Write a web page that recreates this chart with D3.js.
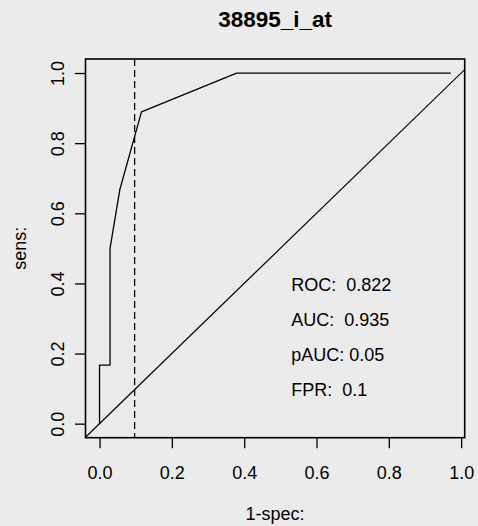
<!DOCTYPE html>
<html>
<head>
<meta charset="utf-8">
<script src="https://cdn.jsdelivr.net/npm/d3@7"></script>
<style>
  html, body { margin: 0; padding: 0; background: #EBEBEB; }
  svg { display: block; }
  text { font-family: "Liberation Sans", Arial, Helvetica, sans-serif; fill: #000; }
</style>
</head>
<body>
<svg id="chart" width="478" height="526"></svg>
<script>
// ---- data ----
const title = "38895_i_at";
const fprValues  = [0, 0, 0.029, 0.029, 0.056, 0.116, 0.379, 0.971];
const sensValues = [0, 0.167, 0.167, 0.5, 0.667, 0.889, 1, 1];
const xTicks = [0, 0.2, 0.4, 0.6, 0.8, 1.0];
const yTicks = [0, 0.2, 0.4, 0.6, 0.8, 1.0];
const cutoffFPR = 0.097;
const statLabels = ["ROC:", "AUC:", "pAUC:", "FPR:"];
const statValues = ["0.822", "0.935", "0.05", "0.1"];
const statSep = ["  ", "  ", " ", "  "];
const statY = [0.4, 0.3, 0.2, 0.1];
const statX = 0.53;
const xLabel = "1-spec:";
const yLabel = "sens:";

// ---- layout ----
const svg = d3.select("#chart");
const L = 85.5, R = 464.7, T = 59, B = 437.7;

const xMin = d3.min(fprValues), xMax = d3.max(fprValues);
const xExt = (xMax - xMin) * 0.04;
const x = d3.scaleLinear().domain([xMin - xExt, xMax + xExt]).range([L, R]);
const yMin = d3.min(sensValues), yMax = d3.max(sensValues);
const yExt = (yMax - yMin) * 0.04;
const y = d3.scaleLinear().domain([yMin - yExt, yMax + yExt]).range([B, T]);

svg.append("defs").append("clipPath").attr("id", "clip")
  .append("rect").attr("x", L).attr("y", T).attr("width", R - L).attr("height", B - T);

const plot = svg.append("g").attr("clip-path", "url(#clip)");

// diagonal abline(0,1)
const dom = x.domain();
plot.append("line")
  .attr("x1", x(dom[0])).attr("y1", y(dom[0]))
  .attr("x2", x(dom[1])).attr("y2", y(dom[1]))
  .attr("stroke", "#000").attr("stroke-width", 1.2);

// ROC curve
const line = d3.line().x((d, i) => x(fprValues[i])).y((d, i) => y(sensValues[i]));
plot.append("path")
  .attr("d", line(fprValues))
  .attr("fill", "none").attr("stroke", "#000").attr("stroke-width", 1.3)
  .attr("stroke-linejoin", "round");

// dashed cutoff line
plot.append("line")
  .attr("x1", x(cutoffFPR)).attr("x2", x(cutoffFPR))
  .attr("y1", T).attr("y2", B)
  .attr("stroke", "#000").attr("stroke-width", 1.3)
  .attr("stroke-dasharray", "7,4");

// box
svg.append("rect")
  .attr("x", L).attr("y", T).attr("width", R - L).attr("height", B - T)
  .attr("fill", "none").attr("stroke", "#000").attr("stroke-width", 1.6);

// axes
const fmt = d3.format(".1f");
const xAxis = svg.append("g").attr("transform", `translate(0,${B})`)
  .call(d3.axisBottom(x).tickValues(xTicks).tickFormat(fmt).tickSize(10.5).tickSizeOuter(0));
xAxis.select(".domain").remove();
xAxis.selectAll(".tick line").attr("stroke", "#000").attr("stroke-width", 1.3);
xAxis.selectAll(".tick text")
  .attr("y", 0).attr("dy", null)
  .attr("transform", "translate(0,41.5)")
  .style("font-size", "18px").attr("fill", "#000");

const yAxis = svg.append("g").attr("transform", `translate(${L},0)`)
  .call(d3.axisLeft(y).tickValues(yTicks).tickFormat(fmt).tickSize(10.5).tickSizeOuter(0));
yAxis.select(".domain").remove();
yAxis.selectAll(".tick line").attr("stroke", "#000").attr("stroke-width", 1.3);
yAxis.selectAll(".tick text")
  .attr("x", 0).attr("dy", null)
  .attr("text-anchor", "middle")
  .attr("transform", `translate(${64 - L},0) rotate(-90)`)
  .style("font-size", "18px").attr("fill", "#000");

// stat texts
svg.append("g").selectAll("text").data(statLabels).join("text")
  .attr("x", x(statX))
  .attr("y", (d, i) => y(statY[i]) + 7.3)
  .attr("xml:space", "preserve")
  .style("white-space", "pre")
  .style("font-size", "18px")
  .text((d, i) => d + statSep[i] + statValues[i]);

// title
svg.append("text")
  .attr("x", (L + R) / 2).attr("y", 27)
  .attr("text-anchor", "middle")
  .style("font-size", "22.5px").style("font-weight", "bold")
  .text(title);

// axis labels
svg.append("text")
  .attr("x", (L + R) / 2).attr("y", 519.5)
  .attr("text-anchor", "middle")
  .style("font-size", "18px")
  .text(xLabel);

svg.append("text")
  .attr("transform", `translate(26,${(T + B) / 2}) rotate(-90)`)
  .attr("text-anchor", "middle")
  .style("font-size", "18px")
  .text(yLabel);
</script>
</body>
</html>
